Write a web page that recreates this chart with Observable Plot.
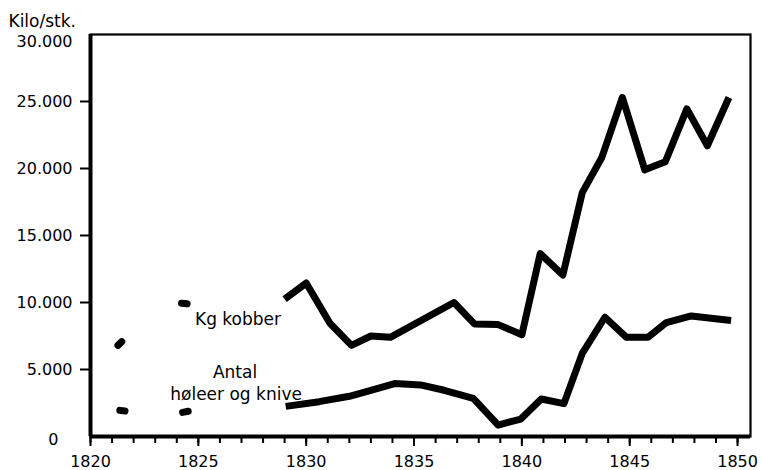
<!DOCTYPE html>
<html><head><meta charset="utf-8">
<script src="https://cdn.jsdelivr.net/npm/d3@7"></script>
<script src="https://cdn.jsdelivr.net/npm/@observablehq/plot@0.6"></script>
<style>body{margin:0;background:#fff} #chart svg{display:block}</style>
</head><body><div id="chart"></div>
<script>
// Kg kobber (positions along the year axis)
const kobberYear  = [1829.0, 1830.0, 1831.1, 1832.1, 1833.0, 1833.9, 1836.85, 1837.8, 1838.9, 1840.0, 1840.85, 1841.9, 1842.8, 1843.7, 1844.66, 1845.7, 1846.65, 1847.65, 1848.6, 1849.6];
const kobberValue = [10250, 11450, 8450, 6800, 7500, 7400, 10000, 8400, 8350, 7600, 13650, 12050, 18200, 20800, 25300, 19900, 20500, 24450, 21700, 25300];

// Antal høleer og knive
const kniveYear  = [1829.05, 1830.6, 1832.0, 1833.0, 1834.1, 1835.3, 1836.4, 1837.75, 1838.9, 1839.95, 1840.9, 1841.95, 1842.8, 1843.85, 1844.85, 1845.85, 1846.7, 1847.85, 1849.7];
const kniveValue = [2250, 2600, 3000, 3450, 3950, 3850, 3450, 2850, 850, 1300, 2800, 2450, 6200, 8900, 7400, 7400, 8500, 9000, 8650];

// isolated early observations, drawn as short dashes
const dashYearStart  = [1821.27, 1824.22, 1821.36, 1824.27];
const dashYearEnd    = [1821.45, 1824.48, 1821.6, 1824.53];
const dashValueStart = [6800, 9950, 1950, 1800];
const dashValueEnd   = [7080, 9900, 1900, 1880];

// axis ticks
const majorYears = [1820, 1825, 1830, 1835, 1840, 1845, 1850];
const minorYears = [1820,1821,1822,1823,1824,1825,1826,1827,1828,1829,1830,1831,1832,1833,1834,1835,1836,1837,1838,1839,1840,1841,1842,1843,1844,1845,1846,1847,1848,1849,1850];
const yTicks = [5000, 10000, 15000, 20000, 25000];
const yTop = [30000];
const yZero = [0];

// series labels
const labelText  = ["Kg kobber", "Antal", "høleer og knive"];
const labelYear  = [1826.84, 1826.7, 1826.75];
const labelValue = [8760, 4780, 3160];

const kobber = kobberYear.map((x, i) => ({x, y: kobberValue[i]}));
const knive = kniveYear.map((x, i) => ({x, y: kniveValue[i]}));
const dashes = dashYearStart.map((x1, i) => ({x1, x2: dashYearEnd[i], y1: dashValueStart[i], y2: dashValueEnd[i]}));
const labels = labelText.map((t, i) => ({t, x: labelYear[i], y: labelValue[i]}));

const fmt = d3.formatLocale({decimal: ",", thousands: ".", grouping: [3], currency: ["", ""]}).format(",");
const font = "'DejaVu Sans', sans-serif";

const chart = Plot.plot({
  width: 762, height: 470,
  marginLeft: 90, marginRight: 12, marginTop: 34, marginBottom: 34,
  style: {fontFamily: font, fontSize: "16px", color: "#000", background: "#fff"},
  x: {domain: [1820, 1850.6], label: null},
  y: {domain: [0, 30000], label: null},
  marks: [
    Plot.frame({stroke: "#000", strokeWidth: 2.2}),
    Plot.axisX(minorYears, {tickSize: 7, strokeWidth: 2, tickFormat: () => "", label: null}),
    Plot.axisX(majorYears, {tickSize: 10, tickPadding: 9, strokeWidth: 2, tickFormat: d => String(d), fontSize: 16, label: null}),
    Plot.axisY(yTicks, {tickSize: 10, tickPadding: 8, strokeWidth: 2, tickFormat: fmt, fontSize: 16, label: null}),
    Plot.axisY(yTop, {tickSize: 0, tickPadding: 18, tickFormat: fmt, fontSize: 16, dy: 7, label: null}),
    Plot.axisY(yZero, {tickSize: 0, tickPadding: 32, tickFormat: () => "0", fontSize: 16, dy: 3, label: null}),
    Plot.ruleX([1820], {stroke: "#000", strokeWidth: 4}),
    Plot.ruleY([0], {stroke: "#000", strokeWidth: 4}),
    Plot.line(kobber, {x: "x", y: "y", stroke: "#000", strokeWidth: 7, strokeLinejoin: "round", strokeLinecap: "butt"}),
    Plot.line(knive, {x: "x", y: "y", stroke: "#000", strokeWidth: 7, strokeLinejoin: "round", strokeLinecap: "butt"}),
    Plot.link(dashes, {x1: "x1", y1: "y1", x2: "x2", y2: "y2", stroke: "#000", strokeWidth: 7, strokeLinecap: "round"}),
    Plot.text(labels, {x: "x", y: "y", text: "t", fontSize: 17, textAnchor: "middle", lineAnchor: "middle", fill: "#000"}),
    Plot.text(["Kilo/stk."], {text: d => d, frameAnchor: "top-left", dx: -82, dy: -13.4, textAnchor: "start", lineAnchor: "middle", fontSize: 17, fill: "#000"})
  ]
});
document.getElementById("chart").appendChild(chart);
</script>
</body></html>
